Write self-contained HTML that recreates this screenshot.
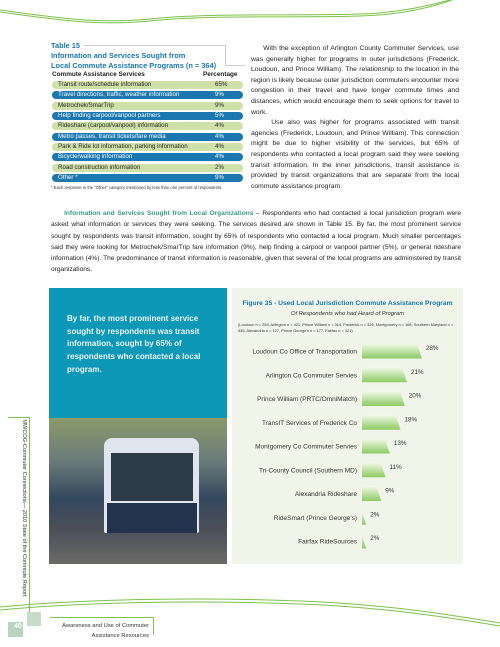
<!DOCTYPE html>
<html><head><meta charset="utf-8"><style>
body{margin:0;width:500px;height:647px;background:#fff;position:relative;overflow:hidden;font-family:"Liberation Sans",sans-serif;}
.abs{position:absolute;}
.row{position:absolute;left:52px;width:191px;height:8px;border-radius:4px;font-size:6.2px;line-height:8px;}
.row span{position:absolute;left:6px;white-space:nowrap;}
.row b{position:absolute;left:163px;font-weight:normal;}
.g{background:#cfe0a8;color:#222;}
.bl{background:#1a77b0;color:#fff;}
.rtext{font-size:7px;line-height:11.2px;color:#222;text-align:justify;}
</style></head><body>
<svg class="abs" style="left:0;top:0" width="500" height="30">
<path d="M0,10 C60,18 100,25 160,18 C220,13 300,16 360,14 C400,13 430,5 450,0" stroke="#7dc24b" stroke-width="1" fill="none"/>
<path d="M0,12 C60,20 100,27 160,20 C220,15 300,18 360,16 C400,15 432,7 452,0" stroke="#7dc24b" stroke-width="1" fill="none"/>
</svg>
<div class="abs" style="left:51px;top:41px;font-size:7.4px;font-weight:bold;color:#1a77b0;line-height:10px;white-space:nowrap">Table 15<br>Information and Services Sought from<br>Local Commute Assistance Programs (n = 364)</div>
<div class="abs" style="left:84px;top:45px;width:141px;height:0;border-top:1px solid #ccc"></div>
<div class="abs" style="left:225px;top:45px;width:0;height:20px;border-left:1px solid #ccc"></div>
<div class="abs" style="left:225px;top:65px;width:20px;height:0;border-top:1px solid #ccc"></div>
<div class="abs" style="left:52px;top:71px;width:191px;font-size:6.4px;font-weight:bold;color:#222"><span>Commute Assistance Services</span><span style="position:absolute;left:151px">Percentage</span></div>
<div id="rows"></div>
<div class="abs" style="left:51px;top:185px;font-size:4.2px;color:#333;white-space:nowrap">* Each response in the "Other" category mentioned by less than one percent of respondents.</div>
<div class="abs rtext" style="left:251px;top:44px;width:208px;font-size:6.8px;line-height:10.6px">&nbsp;&nbsp;&nbsp;&nbsp;&nbsp;With the exception of Arlington County Commuter Services, use was generally higher for programs in outer jurisdictions (Frederick, Loudoun, and Prince William). The relationship to the location in the region is likely because outer jurisdiction commuters encounter more congestion in their travel and have longer commute times and distances, which would encourage them to seek options for travel to work.<br>&nbsp;&nbsp;&nbsp;&nbsp;&nbsp;Use also was higher for programs associated with transit agencies (Frederick, Loudoun, and Prince William). This connection might be due to higher visibility of the services, but 65% of respondents who contacted a local program said they were seeking transit information. In the inner jurisdictions, transit assistance is provided by transit organizations that are separate from the local commute assistance program.</div>
<div class="abs rtext" style="left:51px;top:208px;width:410px;font-size:6.6px;line-height:11.3px;"><span style="color:#3a9a8a;font-weight:bold">&nbsp;&nbsp;&nbsp;&nbsp;&nbsp;Information and Services Sought from Local Organizations</span> – Respondents who had contacted a local jurisdiction program were asked what information or services they were seeking. The services desired are shown in Table 15. By far, the most prominent service sought by respondents was transit information, sought by 65% of respondents who contacted a local program. Much smaller percentages said they were looking for Metrochek/SmarTrip fare information (9%), help finding a carpool or vanpool partner (5%), or general rideshare information (4%). The predominance of transit information is reasonable, given that several of the local programs are administered by transit organizations.</div>
<div class="abs" style="left:49px;top:288px;width:178px;height:130px;background:#0e98b8;"></div>
<div class="abs" style="left:67px;top:313px;width:150px;font-size:8px;line-height:12.7px;font-weight:bold;color:#e8f4f4">By far, the most prominent service sought by respondents was transit information, sought by 65% of respondents who contacted a local program.</div>
<div class="abs" style="left:49px;top:418px;width:178px;height:146px;background:linear-gradient(180deg,#8a9a6a 0%,#6a7a7a 30%,#34485e 55%,#4a4e58 75%,#6b6a68 100%);overflow:hidden">
<div class="abs" style="left:55px;top:20px;width:95px;height:95px;background:#dfe4ee;border-radius:8px 8px 2px 2px"></div>
<div class="abs" style="left:62px;top:35px;width:82px;height:48px;background:#2d3a48"></div>
<div class="abs" style="left:58px;top:85px;width:90px;height:30px;background:#24334e"></div>
</div>
<div class="abs" style="left:29px;top:417px;width:0;height:198px;border-left:1px solid #7dc24b"></div>
<div class="abs" style="left:8px;top:417px;width:21px;height:0;border-top:1px solid #7dc24b"></div>
<div class="abs" style="left:-76px;top:505px;width:200px;text-align:center;transform:rotate(90deg);font-size:5.6px;color:#333;white-space:nowrap">MWCOG-Commuter Connections— 2010 State of the Commute Report</div>
<div class="abs" style="left:232px;top:288px;width:231px;height:276px;background:#f1f4e9"></div>
<div class="abs" style="left:232px;top:300px;width:231px;text-align:center;font-size:6.7px;font-weight:bold;color:#1a77b0;white-space:nowrap">Figure 35 - Used Local Jurisdiction Commute Assistance Program</div>
<div class="abs" style="left:232px;top:311px;width:231px;text-align:center;font-size:5.8px;font-style:italic;color:#333">Of Respondents who had Heard of Program</div>
<div class="abs" style="left:238px;top:322px;width:222px;font-size:3.9px;line-height:6px;color:#333">(Loudoun n = 259, Arlington n = 421, Prince William n = 314, Frederick n = 326, Montgomery n = 168, Southern Maryland n = 435, Alexandria n = 127, Prince George's n = 177, Fairfax n = 121)</div>
<svg class="abs" id="chart" style="left:0;top:0" width="500" height="647"></svg>
<svg class="abs" style="left:0;top:595px" width="500" height="40">
<path d="M0,12 C80,4 200,2 300,6 C380,9 440,18 500,28" stroke="#7dc24b" stroke-width="1" fill="none"/>
<path d="M0,15 C80,7 200,5 300,9 C380,12 440,21 500,31" stroke="#7dc24b" stroke-width="1" fill="none"/>
</svg>
<div class="abs" style="left:27px;top:612px;width:14px;height:14px;background:#c6dcc8"></div>
<div class="abs" style="left:8px;top:622px;width:15px;height:15px;background:#b6d4c0"></div>
<div class="abs" style="left:14px;top:623px;font-size:7px;color:#fff;font-weight:bold">40</div>
<div class="abs" style="left:50px;top:617px;width:103px;height:0;border-top:1px solid #7dc24b"></div>
<div class="abs" style="left:153px;top:617px;width:0;height:18px;border-left:1px solid #7dc24b"></div>
<div class="abs" style="left:40px;top:621px;width:109px;text-align:right;font-size:5.8px;line-height:10px;color:#333;white-space:nowrap">Awareness and Use of Commuter<br>Assistance Resources</div>
<script>
const services=["Transit route/schedule information","Travel directions, traffic, weather information","Metrochek/SmarTrip","Help finding carpool/vanpool partners","Rideshare (carpool/vanpool) information","Metro passes, transit tickets/fare media","Park & Ride lot information, parking information","Bicycle/walking information","Road construction information","Other *"];
const servicePct=[65,9,9,5,4,4,4,4,2,9];
const programs=["Loudoun Co Office of Transportation","Arlington Co Commuter Servies","Prince William (PRTC/OmniMatch)","TransIT Services of Frederick Co","Montgomery Co Commuter Servies","Tri-County Council (Southern MD)","Alexandria Rideshare","RideSmart (Prince George's)","Fairfax RideSources"];
const programPct=[28,21,20,18,13,11,9,2,2];
const rows=document.getElementById('rows');
services.forEach((s,i)=>{
 const d=document.createElement('div');
 
 
 d.className='row '+(i%2?'bl':'g');
 d.style.top=(81+i*10.35)+'px';
 d.innerHTML='<span></span><b></b>';
 d.firstChild.textContent=s;d.lastChild.textContent=servicePct[i]+'%';
 rows.appendChild(d);
});
const svg=document.getElementById('chart');const NS='http://www.w3.org/2000/svg';
const x0=362, k=2.14, y0=351, step=23.75, bh=15;
const xs=v=>x0+v*k, ys=i=>y0+i*step;
const defs=document.createElementNS(NS,'defs');
defs.innerHTML='<linearGradient id="gg" x1="0" y1="0" x2="0" y2="1"><stop offset="0" stop-color="#f4f9ec"/><stop offset="1" stop-color="#8ccb62"/></linearGradient>';
svg.appendChild(defs);
programs.forEach((p,i)=>{
 const y=ys(i), xe=xs(programPct[i]);
 const poly=document.createElementNS(NS,'polygon');
 
 
 poly.setAttribute('points',`${x0},${y-bh/2} ${xe-5},${y-bh/2} ${xe},${y+bh/2} ${x0},${y+bh/2}`);
 poly.setAttribute('fill','url(#gg)');
 svg.appendChild(poly);
 const t=document.createElementNS(NS,'text');
 
 
 t.setAttribute('x',357);t.setAttribute('y',y+2.5);t.setAttribute('text-anchor','end');
 t.setAttribute('font-size','6.5');t.setAttribute('fill','#333');t.setAttribute('font-family','Liberation Sans, sans-serif');
 t.textContent=p;svg.appendChild(t);
 const v=document.createElementNS(NS,'text');
 
 
 v.setAttribute('x',xe+4);v.setAttribute('y',y-1);
 v.setAttribute('font-size','6.3');v.setAttribute('fill','#333');v.setAttribute('font-family','Liberation Sans, sans-serif');
 v.textContent=programPct[i]+'%';svg.appendChild(v);
});
</script>
</body></html>
